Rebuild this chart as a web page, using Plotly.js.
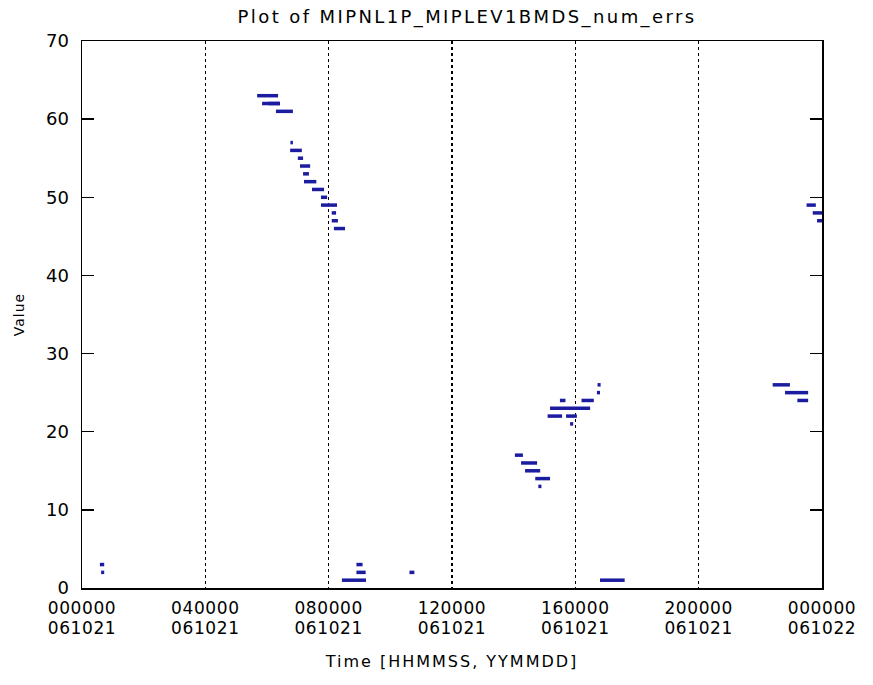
<!DOCTYPE html>
<html>
<head>
<meta charset="utf-8">
<script src="https://cdn.plot.ly/plotly-3.0.1.min.js"></script>
<style>
html,body{margin:0;padding:0;background:#fff;}#chart{width:873px;height:685px;}
#chart .gtitle{letter-spacing:2.4px;}
#chart .xtitle{letter-spacing:2px;}
#chart .ytitle{letter-spacing:1px;}
#chart .xtick text, #chart .x2tick text{letter-spacing:0.6px;}
</style>
</head>
<body>
<div id="chart"></div>
<script>
// Segments of constant value: start hour, end hour, value
var segStart = [0.58, 0.62, 5.68, 5.84, 6.05, 6.29, 6.76, 6.75, 7.00, 7.07, 7.17, 7.20, 7.46, 7.75, 7.75, 8.10, 8.10, 8.17,
                8.43, 8.90, 8.90, 10.62,
                14.04, 14.24, 14.37, 14.70, 14.80, 15.10, 15.18, 15.50, 15.83, 15.70, 16.20, 16.70, 16.72,
                16.80,
                22.40, 22.80, 23.20, 23.50, 23.70, 23.84];
var segEnd   = [0.72, 0.72, 6.36, 6.42, 6.42, 6.84, 6.84, 7.13, 7.17, 7.40, 7.36, 7.60, 7.85, 7.95, 8.27, 8.24, 8.30, 8.53,
                9.21, 9.10, 9.20, 10.78,
                14.30, 14.76, 14.86, 15.18, 14.90, 15.57, 16.48, 15.68, 15.93, 16.05, 16.60, 16.80, 16.82,
                17.60,
                22.96, 23.55, 23.55, 23.80, 24.00, 24.00];
var segValue = [3, 2, 63, 62, 62, 61, 57, 56, 55, 54, 53, 52, 51, 50, 49, 48, 47, 46,
                1, 3, 2, 2,
                17, 16, 15, 14, 13, 22, 23, 24, 21, 22, 24, 25, 26,
                1,
                26, 25, 24, 49, 48, 47];

var tickVals = [0, 4, 8, 12, 16, 20, 24];
var timeText = ['000000', '040000', '080000', '120000', '160000', '200000', '000000'];
var dateText = ['061021', '061021', '061021', '061021', '061021', '061021', '061022'];
var yTicks = [0, 10, 20, 30, 40, 50, 60, 70];

var xs = [], ys = [];
for (var i = 0; i < segStart.length; i++) {
  xs.push(segStart[i], segEnd[i], null);
  ys.push(segValue[i], segValue[i], null);
}

var font = 'DejaVu Sans, Verdana, sans-serif';
var data = [{
  type: 'scatter', mode: 'lines', x: xs, y: ys,
  line: {color: '#1c1ca0', width: 3.5},
  connectgaps: false, hoverinfo: 'skip'
}, {
  type: 'scatter', mode: 'lines', x: [], y: [], xaxis: 'x2', yaxis: 'y',
  hoverinfo: 'skip', showlegend: false
}];

var layout = {
  width: 873, height: 685,
  margin: {l: 82, r: 51, t: 41, b: 97},
  paper_bgcolor: '#fff', plot_bgcolor: '#fff',
  showlegend: false,
  title: {text: 'Plot of MIPNL1P_MIPLEV1BMDS_num_errs', x: 0.535, xanchor: 'center', y: 0.975, yanchor: 'middle',
          font: {family: font, size: 18, color: '#000'}},
  xaxis: {
    range: [0, 24], tickmode: 'array', tickvals: tickVals, ticktext: timeText,
    showgrid: true, gridcolor: '#000', gridwidth: 1.2, griddash: 'dot',
    zeroline: false, showline: true, linecolor: '#000', linewidth: 1.5, mirror: true,
    ticks: '', ticklabelstandoff: 4, tickfont: {family: font, size: 17, color: '#000'},
    title: {text: 'Time [HHMMSS, YYMMDD]', font: {family: font, size: 16, color: '#000'}, standoff: 39}
  },
  xaxis2: {
    range: [0, 24], overlaying: 'x', anchor: 'y', side: 'bottom',
    tickmode: 'array', tickvals: tickVals, ticktext: dateText,
    showgrid: false, zeroline: false, showline: false, ticks: '',
    ticklabelstandoff: 28, tickfont: {family: font, size: 17, color: '#000'}
  },
  yaxis: {
    range: [0, 70], tickmode: 'array', tickvals: yTicks,
    showgrid: false, zeroline: false, showline: true, linecolor: '#000', linewidth: 1.5, mirror: 'ticks',
    ticks: 'inside', ticklen: 12, tickwidth: 1.5, tickcolor: '#000',
    ticklabelstandoff: 8,
    tickfont: {family: font, size: 18, color: '#000'},
    title: {text: 'Value', font: {family: font, size: 14, color: '#000'}, standoff: 18}
  }
};

Plotly.newPlot('chart', data, layout, {displayModeBar: false, staticPlot: true});
</script>
</body>
</html>
